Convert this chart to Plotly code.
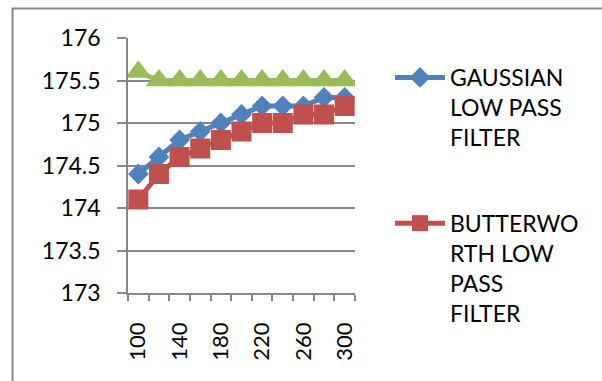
import plotly.graph_objects as go

# Cutoff frequency values on the x axis
cutoff = [100, 120, 140, 160, 180, 200, 220, 240, 260, 280, 300]
tick_labels = ["100", "140", "180", "220", "260", "300"]
tick_positions = [100, 140, 180, 220, 260, 300]

gaussian = [174.4, 174.6, 174.8, 174.9, 175.0, 175.1, 175.2, 175.2, 175.2, 175.3, 175.3]
butterworth = [174.1, 174.4, 174.6, 174.7, 174.8, 174.9, 175.0, 175.0, 175.1, 175.1, 175.2]
third_series = [175.6, 175.5, 175.5, 175.5, 175.5, 175.5, 175.5, 175.5, 175.5, 175.5, 175.5]

FONT = "Lato"
GRID = "#878787"

W, H = 602, 381
L, R, T, B = 128, 355, 38, 293

fig = go.Figure()

fig.add_trace(go.Scatter(
    x=cutoff, y=gaussian, mode="lines+markers",
    name="GAUSSIAN<br>LOW PASS<br>FILTER", legendgroup="g",
    line=dict(color="#4F81BD", width=5),
    marker=dict(symbol="diamond", size=16, color="#4F81BD"),
))
fig.add_trace(go.Scatter(
    x=cutoff, y=butterworth, mode="lines+markers",
    name="BUTTERWO<br>RTH LOW<br>PASS<br>FILTER", legendgroup="b",
    line=dict(color="#C0504D", width=5),
    marker=dict(symbol="square", size=20, color="#C0504D"),
))
fig.add_trace(go.Scatter(
    x=cutoff, y=third_series, mode="lines+markers",
    name="IDEAL LOW PASS FILTER", showlegend=False,
    line=dict(color="#9BBB59", width=5),
    marker=dict(symbol="triangle-up", size=23, color="#9BBB59"),
))

pw, ph = R - L, B - T


def px_x(v):
    return (v - L) / pw


def px_y(v):
    return (B - v) / ph


# Outer chart frame
fig.add_shape(type="rect", xref="paper", yref="paper",
              x0=px_x(12.5), x1=px_x(640), y0=px_y(420), y1=px_y(8.5),
              line=dict(color="#888888", width=2), layer="below")

fig.update_layout(
    width=W, height=H,
    margin=dict(l=L, r=W - R, t=T, b=H - B),
    paper_bgcolor="white", plot_bgcolor="white",
    font=dict(family=FONT, size=23, color="black"),
    showlegend=True,
    legend=dict(
        x=px_x(390), y=px_y(56), xanchor="left", yanchor="top",
        valign="top", tracegroupgap=53, itemwidth=50, maxheight=600,
        font=dict(family=FONT, size=23, color="black"),
        bgcolor="rgba(0,0,0,0)",
    ),
    xaxis=dict(
        type="linear", range=[90, 310],
        tickvals=tick_positions, ticktext=tick_labels,
        tickangle=-90, ticks="outside", ticklen=6, tickcolor="rgba(0,0,0,0)",
        ticklabelstandoff=13,
        showgrid=False, zeroline=False,
        showline=True, linecolor=GRID, linewidth=1.5,
        minor=dict(tick0=90, dtick=20, ticks="outside", ticklen=6,
                   tickcolor=GRID, tickwidth=1.5, showgrid=False),
        tickfont=dict(family=FONT, size=22, color="black"),
    ),
    yaxis=dict(
        range=[173, 176], dtick=0.5, tick0=173,
        ticks="outside", ticklen=9, tickcolor=GRID, tickwidth=1.5,
        ticklabelstandoff=12,
        showgrid=True, gridcolor=GRID, gridwidth=1.5,
        zeroline=False, showline=True, linecolor=GRID, linewidth=1.5,
        tickfont=dict(family=FONT, size=23, color="black"),
    ),
)

fig.write_html("out.html")
